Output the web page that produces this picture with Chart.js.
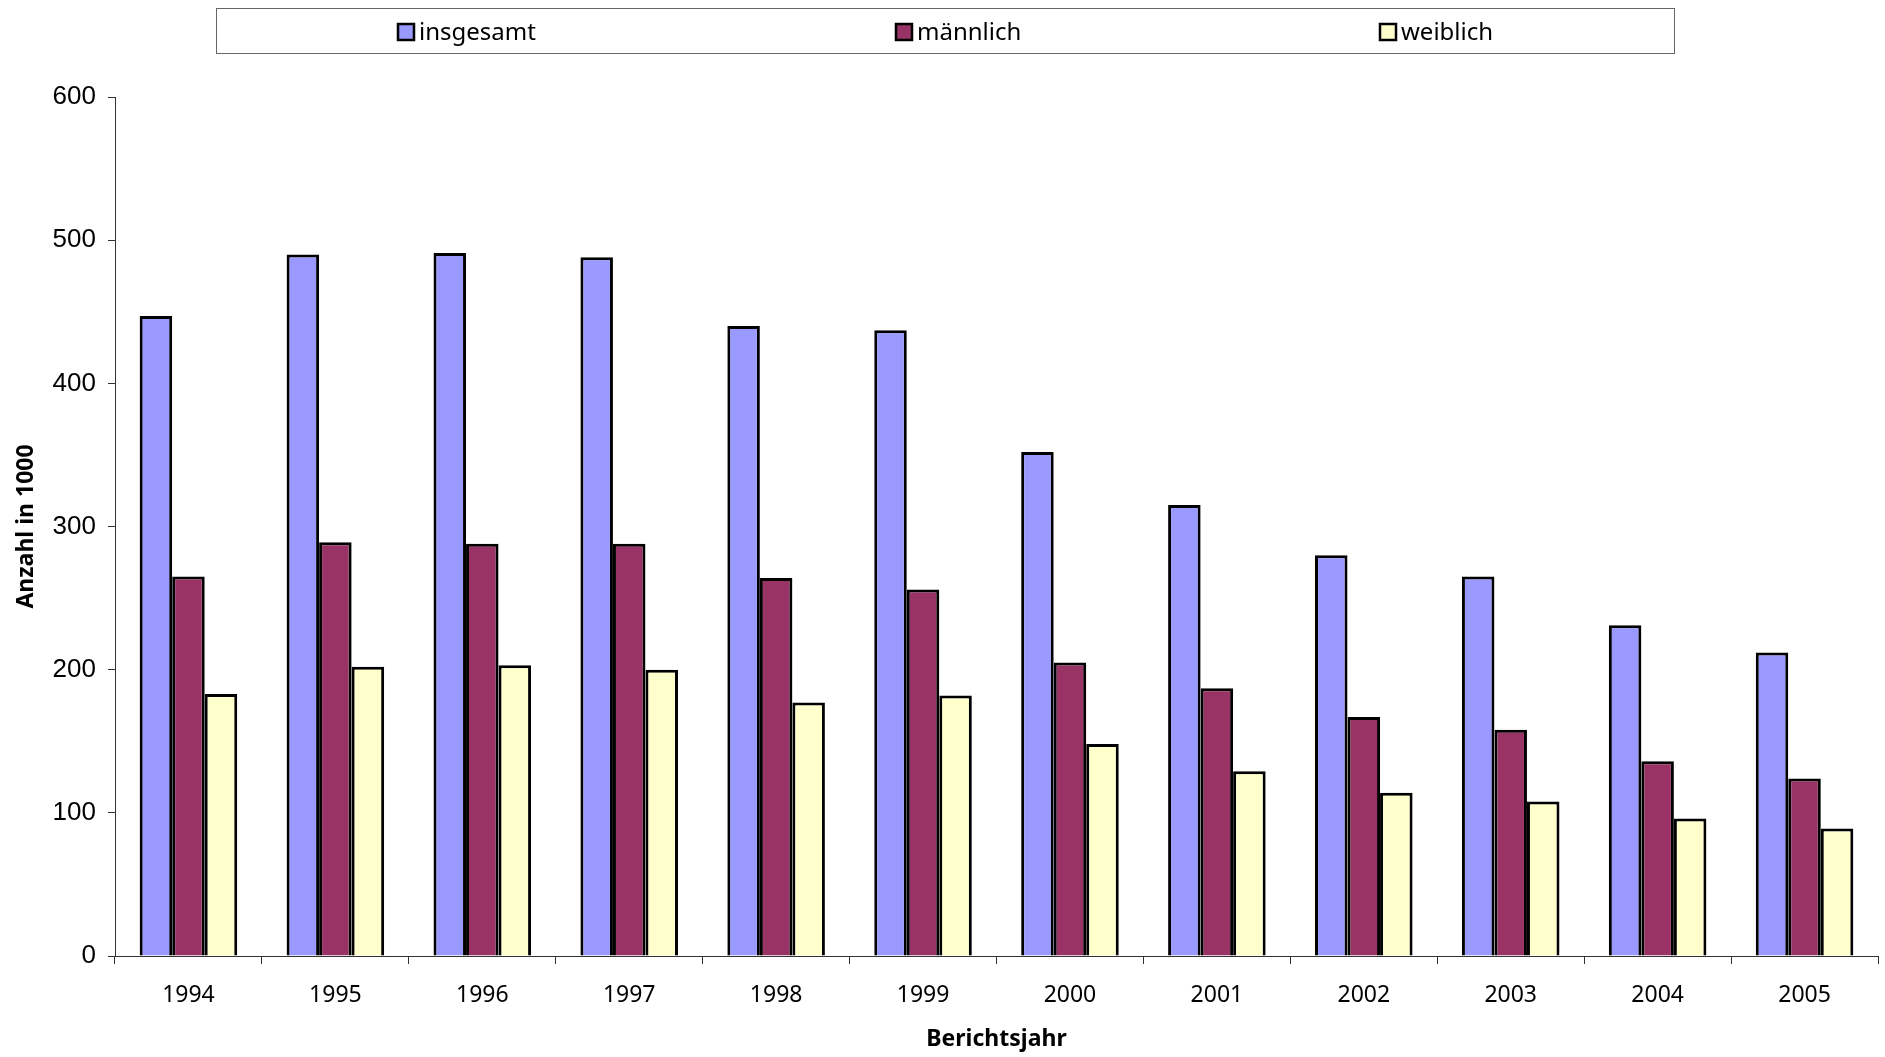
<!DOCTYPE html>
<html>
<head>
  <meta charset="utf-8">
  <title>Anzahl in 1000 nach Berichtsjahr</title>
  <script src="https://cdn.jsdelivr.net/npm/chart.js"></script>
  <style>
    html, body { margin: 0; padding: 0; background: #fff; }
    .chart-container { width: 1885px; height: 1057px; position: relative; }
  </style>
</head>
<body>
  <div class="chart-container">
    <canvas id="myChart"></canvas>
  </div>
  <script>
    // Chart data (values in 1000)
    const years = ['1994', '1995', '1996', '1997', '1998', '1999', '2000', '2001', '2002', '2003', '2004', '2005'];
    const insgesamt = [447, 490, 491, 488, 440, 437, 352, 315, 280, 265, 231, 212];
    const maennlich = [265, 289, 288, 288, 264, 256, 205, 187, 167, 158, 136, 124];
    const weiblich = [183, 202, 203, 200, 177, 182, 148, 129, 114, 108, 96, 89];
    const yMin = 0;
    const yMax = 600;
    const yStep = 100;

    const axisColor = '#333';

    // Legend in a framed box across the top, items spread out
    const boxLegend = {
      id: 'boxLegend',
      afterDraw(chart) {
        const ctx = chart.ctx;
        ctx.save();
        ctx.strokeStyle = '#666';
        ctx.lineWidth = 1;
        ctx.strokeRect(216.5, 8.5, 1458, 45);
        const itemX = [398, 896, 1380];
        ctx.font = '24px "Noto Sans", sans-serif';
        ctx.textBaseline = 'middle';
        ctx.textAlign = 'left';
        chart.data.datasets.forEach((ds, i) => {
          const x = itemX[i];
          ctx.fillStyle = ds.backgroundColor;
          ctx.fillRect(x, 24, 16, 16);
          ctx.strokeStyle = '#000';
          ctx.lineWidth = 2.5;
          ctx.strokeRect(x, 24, 16, 16);
          ctx.fillStyle = '#000';
          ctx.fillText(ds.label, x + 21, 33);
        });
        ctx.restore();
      }
    };

    const ctx = document.getElementById('myChart').getContext('2d');
    const myChart = new Chart(ctx, {
      type: 'bar',
      data: {
        labels: years,
        datasets: [
          { label: 'insgesamt', data: insgesamt, backgroundColor: '#9999FF' },
          { label: 'männlich', data: maennlich, backgroundColor: '#993366' },
          { label: 'weiblich', data: weiblich, backgroundColor: '#FFFFCC' }
        ]
      },
      options: {
        responsive: true,
        maintainAspectRatio: false,
        animation: false,
        layout: { padding: { left: 0, right: 7, top: 97, bottom: 0 } },
        datasets: {
          bar: {
            borderColor: '#000',
            borderWidth: 3,
            categoryPercentage: 0.664,
            barPercentage: 1
          }
        },
        plugins: {
          legend: { display: false },
          tooltip: { enabled: false }
        },
        scales: {
          x: {
            grid: {
              offset: true,
              drawOnChartArea: false,
              drawTicks: true,
              tickLength: 8,
              color: axisColor
            },
            border: { color: axisColor, width: 1 },
            ticks: {
              color: '#000',
              padding: 18,
              maxRotation: 0,
              font: { family: '"Noto Sans", sans-serif', size: 23 }
            },
            title: {
              display: true,
              text: 'Berichtsjahr',
              color: '#000',
              padding: { top: 0, bottom: 4 },
              font: { family: '"Noto Sans", sans-serif', size: 23, weight: 'bold' }
            },
            afterFit(scale) { scale.height = 101; }
          },
          y: {
            min: yMin,
            max: yMax,
            grid: {
              drawOnChartArea: false,
              drawTicks: true,
              tickLength: 7,
              color: axisColor
            },
            border: { color: axisColor, width: 1 },
            ticks: {
              stepSize: yStep,
              color: '#000',
              padding: 12,
              font: { family: '"Liberation Sans", Arial, sans-serif', size: 26 }
            },
            title: {
              display: true,
              text: 'Anzahl in 1000',
              color: '#000',
              padding: { top: 13, bottom: 0 },
              font: { family: '"Noto Sans", sans-serif', size: 23, weight: 'bold' }
            },
            afterFit(scale) { scale.width = 115; }
          }
        }
      },
      plugins: [boxLegend]
    });
  </script>
</body>
</html>
